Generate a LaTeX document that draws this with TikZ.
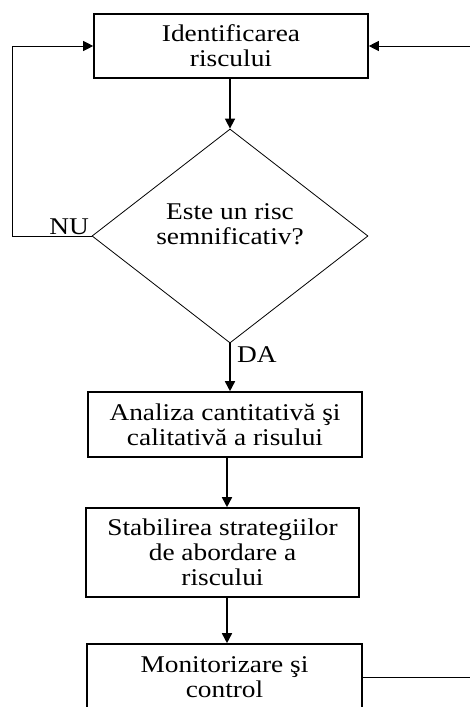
\documentclass[tikz,border=0pt]{standalone}
\usepackage{fontspec}
\setmainfont[FakeStretch=1.14]{Liberation Serif}
\usetikzlibrary{shapes.geometric,arrows.meta,calc}
\begin{document}
\begin{tikzpicture}[x=1pt,y=-1pt,
  font=\fontsize{24}{25}\selectfont,
  box/.style={draw,line width=1.6pt,align=center,inner sep=0pt},
  dia/.style={draw,diamond,line width=0.8pt,minimum width=276pt,minimum height=214pt,inner sep=0pt},
  arr/.style={line width=1.6pt,-{Triangle[length=10pt,width=10pt]}},
  thin/.style={line width=0.9pt},
  thinarr/.style={line width=0.9pt,-{Triangle[length=10pt,width=10pt]}},
  lbl/.style={inner sep=0pt}]
\useasboundingbox (0,0) rectangle (470,707);
\clip (0,0) rectangle (470,707);
\node[box,minimum width=274pt,minimum height=64pt] (b1) at (231,46) {Identificarea\\riscului};
\node[dia] (d) at (230,236) {};
\node[align=center,inner sep=0pt] (dt) at (230,224) {Este un risc\\semnificativ?};
\node[box,minimum width=274pt,minimum height=65pt] (b2) at (225,424.5) {Analiza cantitativă şi\\calitativă a risului};
\node[box,minimum width=273pt,minimum height=89pt] (b3) at (222.5,552.5) {Stabilirea strategiilor\\de abordare a\\riscului};
\node[box,minimum width=275pt,minimum height=66pt] (b4) at (224.5,677) {Monitorizare şi\\control};
\node[lbl,anchor=south east] (nu) at (89,235) {NU};
\node[lbl,anchor=north west] (da) at (237,346) {DA};
\coordinate (lx) at (12,0);
\coordinate (ax) at (227,0);
\coordinate (r1) at (470,46);
\coordinate (r4) at (470,677);
\draw[arr] (b1.south -| d.north) -- (d.north);
\draw[arr] (d.south) -- (d.south |- b2.north);
\draw[arr] (ax |- b2.south) -- (ax |- b3.north);
\draw[arr] (ax |- b3.south) -- (ax |- b4.north);
\draw[thinarr] (d.west) -- (lx |- d.west) -- (lx |- b1.west) -- (b1.west);
\draw[thinarr] (r1) -- (b1.east);
\draw[thin] (b4.east) -- (r4);
\end{tikzpicture}
\end{document}
